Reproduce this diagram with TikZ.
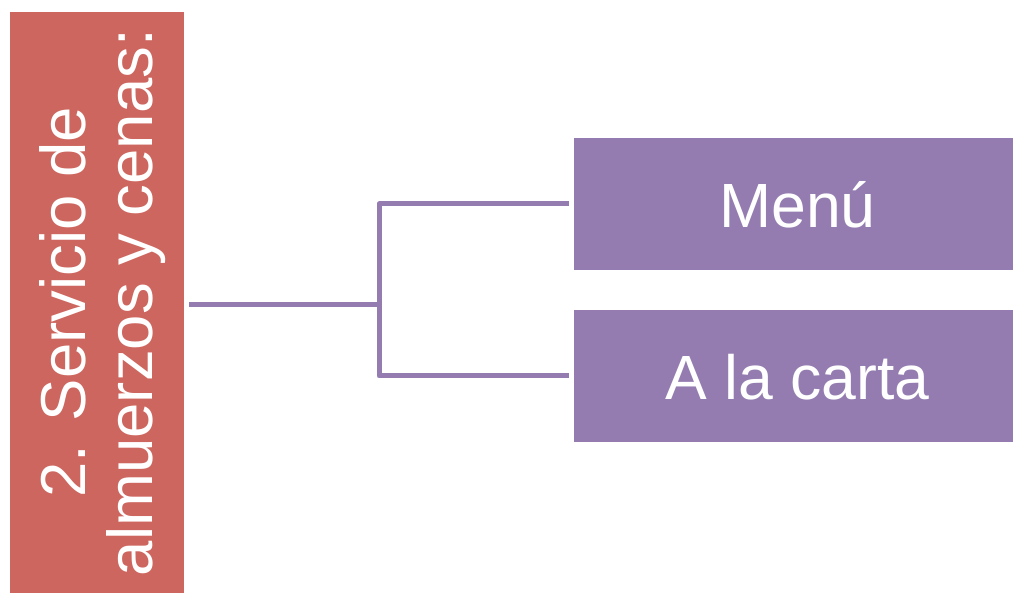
\documentclass[tikz,border=0pt]{standalone}
\usepackage{fontspec}
\setmainfont{Liberation Sans}
\definecolor{redbox}{RGB}{205,102,94}
\definecolor{purplebox}{RGB}{148,124,177}
\begin{document}
\begin{tikzpicture}[x=1pt,y=-1pt,
  box/.style={fill=purplebox,draw=none,minimum width=447pt,minimum height=132pt,inner sep=0pt,
    text=white,font=\fontsize{62.5}{68}\selectfont,text height=47pt,text depth=0pt},
  sidebox/.style={fill=redbox,draw=none,minimum width=174pt,minimum height=581pt,inner sep=0pt},
  sidetext/.style={rotate=90,inner sep=0pt,text=white,font=\fontsize{63.5}{67}\selectfont,align=center},
  conn/.style={draw=purplebox,line width=5pt,line join=round}]
\useasboundingbox (0,0) rectangle (1013,593);
\node[sidebox] (red) at (97,302.5) {};
\node[sidetext,anchor=north] (redtext) at (39,302.5) {2. Servicio de\\almuerzos y cenas:};
\node[box] (menu) at (797.5,204) {Menú};
\node[box] (alc) at (797.5,376) {A la carta};
\coordinate (j) at (379,305);
\draw[conn] (red.east |- j) ++(5,0) -- (j);
\draw[conn] ([xshift=-5pt]menu.west) -- (menu.west -| j) -- (alc.west -| j) -- ([xshift=-5pt]alc.west);
\end{tikzpicture}
\end{document}
